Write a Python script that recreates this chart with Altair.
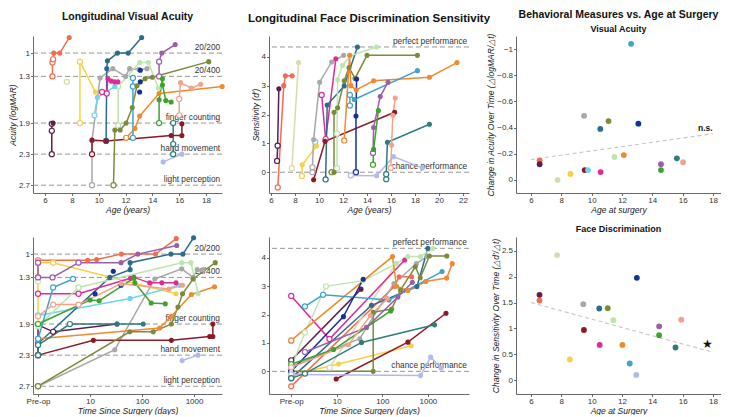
import altair as alt
import pandas as pd

FONT = "Liberation Sans"

SUBJECTS = ["orred", "dpurple", "paleolive", "yellow", "gray", "dred", "ltblue", "tealblue",
            "magenta", "olive", "ltgreen", "orange", "skyblue", "navy", "purple", "green",
            "teal", "salmon", "lavender"]
COLORS = ["#F26C4F", "#5B1E4F", "#D4DCB0", "#F7D046", "#A8A8A8", "#8B1A24", "#6FD3F3", "#2B6C8C",
          "#E02A98", "#7B8B3A", "#BDE5B0", "#EE8A2F", "#3FA3CC", "#14309B", "#9A5FA7", "#3DA32D",
          "#2E7C7C", "#F3A28A", "#B3B9EC"]

# (age, logMAR, filled)  "|" = break in line
VA_BY_AGE = {
    "orred": [(6.55, 1.30, 0), (6.55, 1.12, 0), (6.6, 1.08, 0), (6.65, 1.0, 1), (7.1, 1.0, 1), (7.8, 0.80, 1)],
    "dpurple": [(6.5, 2.3, 0), (6.5, 2.0, 0), (6.5, 1.91, 0), (6.6, 1.9, 1)],
    "paleolive": [(7.62, 1.37, 0)],
    "yellow": [(8.6, 1.9, 0), (8.6, 1.11, 0), (9.75, 1.5, 1)],
    "gray": [(9.5, 2.7, 0), (9.5, 2.12, 1), (10.1, 1.32, 1), (11.05, 1.2, 1), (12.0, 1.3, 1), (12.3, 1.2, 1), (13.0, 1.21, 1), (13.6, 1.2, 1)],
    "dred": [(9.5, 2.3, 0), (9.5, 2.12, 1), (10.55, 2.13, 1), (15.4, 2.06, 1), (16.2, 2.06, 1), (16.2, 1.91, 1)],
    "ltblue": [(9.68, 1.8, 0), (9.9, 1.57, 1), (11.2, 1.43, 1)],
    "tealblue": [(10.55, 2.13, 0), (10.6, 1.2, 1), (10.65, 1.1, 1), (11.4, 1.0, 1), (12.2, 1.0, 1), (13.2, 0.8, 1)],
    "magenta": [(10.25, 1.5, 0), (10.6, 1.52, 0), (10.68, 1.33, 1), (10.93, 1.36, 1), (11.18, 1.37, 1), (11.43, 1.37, 1)],
    "olive": [(11.1, 2.7, 0), (11.2, 1.99, 1), (11.6, 1.99, 1), (12.05, 1.9, 1), (12.5, 1.7, 1), (12.85, 1.42, 1), (13.45, 1.33, 1), (14.0, 1.31, 1), (18.2, 1.11, 1)],
    "ltgreen": [(11.45, 1.93, 0), (11.45, 1.43, 0), (13.05, 1.12, 1), (13.7, 1.12, 1), (14.45, 1.45, 1)],
    "orange": [(12.05, 2.09, 0), (12.7, 1.97, 1), (13.05, 1.81, 1), (14.5, 1.52, 1), (19.2, 1.43, 1)],
    "skyblue": [(12.55, 2.09, 0), (12.55, 1.43, 0), (12.55, 1.32, 0)],
    "navy": [(13.1, 1.22, 1), "|", (13.1, 1.37, 1), "|", (13.05, 1.5, 1)],
    "purple": [(14.5, 1.3, 0), (14.5, 1.11, 0), (14.7, 1.0, 1), (15.7, 0.89, 1)],
    "green": [(14.5, 1.9, 0), (14.5, 1.6, 1), (14.75, 1.33, 1), (14.75, 1.41, 1), (15.0, 1.61, 1), (15.4, 1.63, 1)],
    "teal": [(15.55, 2.3, 0), (15.55, 2.17, 0), (15.55, 1.9, 0)],
    "salmon": [(16.0, 1.8, 0), (16.0, 1.59, 0), (16.1, 1.38, 1), (16.9, 1.45, 1), (17.6, 1.4, 1)],
    "lavender": [(14.8, 2.4, 1), (16.2, 2.3, 1)],
}

# (days since surgery, logMAR, filled); pre-op plotted at 1 day
VA_BY_TIME = {
    "orred": [(1, 1.3, 0), (1, 1.11, 0), (1, 1.08, 0), (9, 1.08, 1), (13.4, 1.07, 1), (40, 1.0, 1), (182, 1.0, 1), (455, 0.8, 1)],
    "dpurple": [(1, 2.3, 0), (1, 1.91, 0), (1.95, 2.0, 0), (33, 1.9, 1)],
    "paleolive": [(1, 1.35, 0)],
    "yellow": [(1, 1.9, 0), (1, 1.11, 0), (1.95, 1.11, 0), (450, 1.51, 1)],
    "gray": [(1, 2.7, 0), (30, 2.23, 1), (176, 1.32, 1), (580, 1.19, 1), (960, 1.3, 1), (1150, 1.2, 1), (1500, 1.2, 1)],
    "dred": [(1, 2.3, 0), (11.6, 2.11, 1), (367, 2.11, 1), (2000, 2.06, 1), (2300, 2.06, 1), (2300, 1.9, 1)],
    "ltblue": [(1, 1.79, 0), (59, 1.57, 1), (530, 1.4, 1)],
    "tealblue": [(1, 2.15, 0), (24, 1.3, 1), (59, 1.2, 1), (59, 1.11, 1), (360, 1.0, 1), (610, 1.0, 1), (980, 0.79, 1)],
    "magenta": [(1, 1.51, 0), (6, 1.51, 0), (60, 1.31, 1), (70, 1.3, 1), (140, 1.37, 1), (240, 1.37, 1), (450, 1.37, 1)],
    "olive": [(1, 2.7, 0), (58, 2.0, 1), (164, 2.0, 1), (367, 1.9, 1), (490, 1.68, 1), (600, 1.51, 1), (960, 1.32, 1), (2560, 1.11, 1)],
    "ltgreen": [(1, 1.93, 0), (6, 1.43, 0), (580, 1.11, 1), (870, 1.11, 1), (1200, 1.51, 1)],
    "orange": [(1, 2.09, 0), (219, 1.95, 1), (367, 1.8, 1), (890, 1.52, 1), (2480, 1.42, 1)],
    "skyblue": [(1, 2.09, 0), (1.95, 1.43, 0), (4.7, 1.32, 0)],
    "navy": [(28, 1.22, 1), "|", (39.5, 1.4, 1), "|", (12.5, 1.51, 1)],
    "purple": [(1, 1.11, 0), (1, 1.3, 0), (1.9, 1.3, 0), (6, 1.11, 0), (39.5, 1.11, 1), (83, 1.0, 1), (465, 0.89, 1)],
    "green": [(1, 1.9, 0), (10, 1.59, 1), (15, 1.6, 1), (70, 1.31, 1), (73, 1.37, 1), (150, 1.63, 1), (280, 1.64, 1)],
    "teal": [(1, 2.3, 0), (1, 2.17, 0), (4.1, 1.9, 0), (33, 1.9, 1), (105, 1.9, 1)],
    "salmon": [(1, 1.8, 0), (1.95, 1.65, 0), (6, 1.65, 0), (40, 1.38, 1), (330, 1.45, 1), (600, 1.4, 1)],
    "lavender": [(590, 2.37, 1), (1190, 2.3, 1)],
}

# (age, d', filled)
FD_BY_AGE = {
    "dpurple": [(6.5, 0.39, 0), (6.55, 0.92, 0), (6.65, 2.89, 1)],
    "orred": [(6.56, -0.53, 0), (7.06, 3.0, 1), (7.2, 3.34, 1), (7.76, 3.34, 1)],
    "paleolive": [(7.73, 0.14, 0), (8.29, 3.8, 1)],
    "yellow": [(8.57, -0.13, 0), (8.6, 0.26, 1), (9.8, 0.91, 1)],
    "gray": [(9.45, 0.0, 0), (9.45, 0.17, 0), (9.55, 1.13, 1), (10.05, 3.12, 1), (11.05, 3.82, 1), (12.05, 4.05, 1)],
    "dred": [(9.55, -0.26, 1), (10.5, 1.07, 1), (16.3, 2.08, 1)],
    "ltblue": [(9.68, 1.05, 0)],
    "magenta": [(10.22, 2.68, 0), (10.55, 1.15, 0), (11.4, 3.93, 1)],
    "tealblue": [(10.55, -0.25, 0), (10.68, 2.33, 1), (12.1, 2.99, 1), (13.2, 4.34, 1)],
    "olive": [(11.05, 0.0, 0), (11.25, 0.0, 1), (11.25, 2.08, 1), (11.55, 2.23, 1), (12.1, 3.17, 1), (12.5, 3.63, 1), (13.0, 3.25, 1), (14.0, 4.05, 1), (18.2, 4.05, 1)],
    "ltgreen": [(11.5, 0.14, 0), (11.5, 1.34, 0), (11.55, 3.2, 1), (11.95, 3.7, 1), (12.6, 4.03, 1), (14.8, 4.34, 1)],
    "orange": [(12.1, 1.1, 0), (12.55, 4.05, 1), (12.65, 3.0, 1), (13.1, 2.85, 1), (14.55, 3.17, 1), (19.2, 3.29, 1), (21.5, 3.8, 1)],
    "skyblue": [(12.57, 2.31, 0), (12.57, 2.68, 0), (12.94, 2.52, 1), (18.2, 3.52, 1)],
    "navy": [(13.08, 0.0, 0), (13.08, 1.95, 1), (13.13, 3.23, 1)],
    "lavender": [(12.65, -0.11, 0), (14.8, -0.12, 1), (16.2, 0.54, 1), (18.6, 0.15, 1)],
    "purple": [(14.5, 0.67, 0), (14.55, 1.55, 1), (15.1, 2.62, 1), (15.75, 3.12, 1)],
    "green": [(14.5, 0.26, 0), (14.55, 0.79, 1), (14.95, 2.14, 1)],
    "teal": [(15.6, -0.24, 0), (15.6, -0.07, 0), (15.7, 1.04, 1), (19.2, 1.66, 1)],
    "salmon": [(15.98, 0.15, 0), (16.05, 0.94, 1), (16.15, 1.97, 1), (16.35, 2.57, 1)],
}

# (days since surgery, d', filled)
FD_BY_TIME = {
    "dpurple": [(1, 0.39, 0), (34, 2.9, 1)],
    "orred": [(1, -0.53, 0), (185, 3.0, 1), (234, 3.34, 1), (440, 3.34, 1)],
    "paleolive": [(7, 0.13, 0), (200, 3.8, 1)],
    "yellow": [(1, -0.13, 0), (11, 0.26, 1), (430, 0.9, 1)],
    "gray": [(1, 0.0, 0), (1, 0.17, 0), (32, 1.15, 1), (180, 3.1, 1), (560, 3.8, 1), (950, 4.05, 1)],
    "dred": [(9.7, -0.27, 1), (365, 1.03, 1), (2500, 2.05, 1)],
    "ltblue": [(1, 1.07, 0)],
    "magenta": [(1, 2.66, 0), (6.9, 1.14, 0), (310, 3.93, 1)],
    "tealblue": [(1, -0.24, 0), (58, 2.33, 1), (575, 2.99, 1), (1000, 4.34, 1)],
    "olive": [(1, 0.0, 0), (63, 0.0, 1), (63, 2.08, 1), (160, 2.2, 1), (250, 2.87, 1), (530, 3.69, 1), (680, 3.3, 1), (1080, 4.07, 1), (2600, 4.07, 1)],
    "ltgreen": [(1, 0.14, 0), (2, 1.37, 0), (5.8, 3.0, 0), (38, 3.2, 1), (204, 3.8, 1), (365, 4.05, 1), (690, 4.05, 1), (1290, 4.34, 1)],
    "orange": [(1, 1.09, 0), (167, 4.05, 1), (205, 3.0, 1), (365, 2.85, 1), (894, 3.17, 1), (2590, 3.29, 1), (3430, 3.8, 1)],
    "skyblue": [(2, 2.29, 0), (5, 2.7, 0), (140, 2.52, 1), (2050, 3.52, 1)],
    "navy": [(1, 0.0, 0), (14, 1.93, 1), (38, 3.25, 1)],
    "lavender": [(1, -0.11, 0), (690, -0.15, 1), (1150, 0.5, 1), (1950, 0.12, 1)],
    "purple": [(2, 0.68, 0), (45, 1.55, 1), (220, 2.62, 1), (456, 3.14, 1)],
    "green": [(1, 0.25, 0), (8.5, 0.77, 1), (153, 2.13, 1)],
    "teal": [(1, -0.24, 0), (2, -0.08, 0), (35, 1.02, 1), (1400, 1.64, 1)],
    "salmon": [(1, 0.14, 0), (18, 0.94, 1), (55, 1.97, 1), (130, 2.57, 1)],
}

VA_SUBJ = ["orred", "dpurple", "paleolive", "yellow", "gray", "dred", "ltblue", "tealblue", "magenta",
           "olive", "ltgreen", "orange", "skyblue", "navy", "purple", "green", "teal", "salmon"]
VA_SURG_AGE = [6.57, 6.57, 7.75, 8.6, 9.5, 9.54, 9.76, 10.57, 10.59, 11.11, 11.5, 12.12, 12.6, 13.08, 14.57, 14.57, 15.62, 16.03]
VA_SLOPE = [-0.15, -0.12, 0.0, -0.045, -0.49, -0.075, -0.075, -0.39, -0.06, -0.45, -0.175, -0.19, -1.04, -0.43, -0.12, -0.075, -0.165, -0.135]

FD_SUBJ = ["orred", "dpurple", "paleolive", "yellow", "gray", "dred", "tealblue", "magenta", "olive",
           "ltgreen", "orange", "skyblue", "navy", "lavender", "purple", "green", "teal", "salmon"]
FD_SURG_AGE = [6.56, 6.56, 7.72, 8.56, 9.45, 9.49, 10.5, 10.53, 11.06, 11.43, 12.03, 12.51, 12.98, 12.94, 14.45, 14.45, 15.53, 15.91]
FD_SLOPE = [1.54, 1.65, 2.42, 0.40, 1.47, 0.97, 1.385, 0.68, 1.39, 1.16, 0.68, 0.32, 1.98, 0.10, 1.04, 0.87, 0.63, 1.17]

TREND_VA_X = [6, 18]
TREND_VA_Y = [-0.156, -0.353]
TREND_FD_X = [6, 17.85]
TREND_FD_Y = [1.50, 0.55]

VA_REF_Y = [1.0, 1.3, 1.9, 2.3, 2.7]
VA_REF_LABEL = ["20/200", "20/400", "finger counting", "hand movement", "light perception"]
FD_REF_Y = [4.34, 0.0]
FD_REF_LABEL = ["perfect performance", "chance performance"]

cscale = alt.Scale(domain=SUBJECTS, range=COLORS)


def long_df(d):
    rows = []
    for subj, pts in d.items():
        seg = 0
        for i, p in enumerate(pts):
            if p == "|":
                seg += 1
                continue
            rows.append(dict(subj=subj, grp=f"{subj}-{seg}", x=p[0], y=p[1], filled=bool(p[2]), order=i))
    return pd.DataFrame(rows)


def long_panel(d, xsc, ysc, xax, yax, refs_y, refs_lab, label_x, w, h, title=None):
    df = long_df(d)
    refdf = pd.DataFrame({"y": refs_y, "label": refs_lab, "x": [label_x] * len(refs_y)})
    X = alt.X("x:Q", scale=xsc, axis=xax)
    Y = alt.Y("y:Q", scale=ysc, axis=yax)
    rules = alt.Chart(refdf).mark_rule(color="#8a8a8a", strokeDash=[5, 3], strokeWidth=0.9).encode(y=Y)
    labels = alt.Chart(refdf).mark_text(align="right", baseline="bottom", dy=-1, fontSize=8.3,
                                        color="#333", font=FONT).encode(x=X, y=Y, text="label:N")
    base = alt.Chart(df)
    lines = base.mark_line(strokeWidth=1.5).encode(
        x=X, y=Y, color=alt.Color("subj:N", scale=cscale, legend=None),
        detail="grp:N", order="order:Q")
    opens = base.transform_filter("!datum.filled").mark_point(
        shape="circle", size=26, fill="white", fillOpacity=1, strokeWidth=1.2, opacity=1).encode(
        x=X, y=Y, stroke=alt.Stroke("subj:N", scale=cscale, legend=None))
    fills = base.transform_filter("datum.filled").mark_circle(size=26, opacity=1).encode(
        x=X, y=Y, color=alt.Color("subj:N", scale=cscale, legend=None))
    ch = alt.layer(rules, labels, lines, opens, fills).properties(width=w, height=h)
    if title is not None:
        ch = ch.properties(title=title)
    return ch


def scatter_panel(subj, ages, vals, tx, ty, xsc, ysc, xax, yax, ann, ann_style, w, h, title):
    df = pd.DataFrame({"subj": subj, "x": ages, "y": vals})
    tdf = pd.DataFrame({"x": tx, "y": ty})
    adf = pd.DataFrame({"x": [ann[0]], "y": [ann[1]], "t": [ann[2]]})
    X = alt.X("x:Q", scale=xsc, axis=xax)
    Y = alt.Y("y:Q", scale=ysc, axis=yax)
    trend = alt.Chart(tdf).mark_line(color="#c6c6c6", strokeDash=[4, 3], strokeWidth=1.1).encode(x=X, y=Y)
    pts = alt.Chart(df).mark_circle(size=34, opacity=1).encode(
        x=X, y=Y, color=alt.Color("subj:N", scale=cscale, legend=None))
    txt = alt.Chart(adf).mark_text(**ann_style).encode(x=X, y=Y, text="t:N")
    return alt.layer(trend, pts, txt).properties(width=w, height=h, title=title)


W1, W2, W3 = 189, 200, 205
H = 157

age_ticks_1 = [6, 8, 10, 12, 14, 16, 18]
age_ticks_2 = [6, 8, 10, 12, 14, 16, 18, 20, 22]

time_labels = "datum.value < 2 ? 'Pre-op' : format(datum.value, 'd')"

p1 = long_panel(
    VA_BY_AGE,
    alt.Scale(domain=[5.1, 19.19], nice=False, zero=False),
    alt.Scale(domain=[0.78, 2.8], reverse=True, nice=False, zero=False),
    alt.Axis(title="Age (years)", values=age_ticks_1),
    alt.Axis(title="Acuity (logMAR)", values=VA_REF_Y, format=".1~f"),
    VA_REF_Y, VA_REF_LABEL, 19.05, W1, H,
    alt.Title("Longitudinal Visual Acuity", subtitle=" ", offset=-1))

p2 = long_panel(
    FD_BY_AGE,
    alt.Scale(domain=[5.83, 22.5], nice=False, zero=False),
    alt.Scale(domain=[-0.72, 4.72], nice=False, zero=False),
    alt.Axis(title="Age (years)", values=age_ticks_2),
    alt.Axis(title="Sensitivity (d')", values=[0, 1, 2, 3, 4]),
    FD_REF_Y, FD_REF_LABEL, 22.35, W2, H,
    alt.Title("Longitudinal Face Discrimination Sensitivity", subtitle=" ", fontSize=11.5, offset=-1))

p3 = scatter_panel(
    VA_SUBJ, VA_SURG_AGE, VA_SLOPE, TREND_VA_X, TREND_VA_Y,
    alt.Scale(domain=[5.01, 18.53], nice=False, zero=False),
    alt.Scale(domain=[-1.1, 0.1], reverse=True, nice=False, zero=False),
    alt.Axis(title="Age at surgery", values=age_ticks_1),
    alt.Axis(title="Change in Acuity Over Time (\u25B3logMAR/\u25B3t)", values=[-1, -0.8, -0.6, -0.4, -0.2, 0], format=".1~f"),
    (17.5, -0.395, "n.s."),
    dict(fontSize=8.5, fontWeight="bold", font=FONT, color="#111", align="center", baseline="middle"),
    W3, H,
    alt.Title("Behavioral Measures vs. Age at Surgery", subtitle="Visual Acuity", offset=-1))

p4 = long_panel(
    VA_BY_TIME,
    alt.Scale(type="log", domain=[0.8, 3450], nice=False),
    alt.Scale(domain=[0.78, 2.8], reverse=True, nice=False, zero=False),
    alt.Axis(title="Time Since Surgery (days)", values=[1, 10, 100, 1000], labelExpr=time_labels),
    alt.Axis(title=None, values=VA_REF_Y, format=".1~f"),
    VA_REF_Y, VA_REF_LABEL, 3150, W1, H)

p5 = long_panel(
    FD_BY_TIME,
    alt.Scale(type="log", domain=[0.325, 8000], nice=False),
    alt.Scale(domain=[-0.8, 4.74], nice=False, zero=False),
    alt.Axis(title="Time Since Surgery (days)", values=[1, 10, 100, 1000], labelExpr=time_labels),
    alt.Axis(title=None, values=[0, 1, 2, 3, 4]),
    FD_REF_Y, FD_REF_LABEL, 7200, W2, H)

p6 = scatter_panel(
    FD_SUBJ, FD_SURG_AGE, FD_SLOPE, TREND_FD_X, TREND_FD_Y,
    alt.Scale(domain=[5.01, 18.53], nice=False, zero=False),
    alt.Scale(domain=[-0.27, 2.77], nice=False, zero=False),
    alt.Axis(title="Age at Surgery", values=age_ticks_1),
    alt.Axis(title="Change in Sensitivity Over Time (\u25B3d'/\u25B3t)", values=[0, 0.5, 1, 1.5, 2, 2.5], format=".1~f"),
    (17.63, 0.70, "\u2605"),
    dict(fontSize=12, font="DejaVu Sans", color="#111", align="center", baseline="middle"),
    W3, H,
    alt.Title("Face Discrimination", fontSize=9, offset=3))

chart = alt.concat(
    p1, p2, p3, p4, p5, p6, columns=3,
    spacing={"row": 44, "column": 47}, bounds="flush"
).properties(
    padding={"left": 0, "top": 2, "right": 0, "bottom": 0}
).configure_axis(
    grid=False, domainColor="#444", tickColor="#444", tickSize=2.5, domainWidth=0.8, tickWidth=0.8,
    labelFontSize=8, labelColor="#333", labelFont=FONT, labelPadding=1,
    titleFontSize=8.5, titleFontWeight="normal", titleFontStyle="italic", titleColor="#222",
    titleFont=FONT, titlePadding=1
).configure_view(
    stroke=None
).configure_title(
    font=FONT, fontSize=10.5, fontWeight="bold", color="#111", anchor="middle",
    subtitleFont=FONT, subtitleFontSize=9, subtitleFontWeight="bold", subtitleColor="#111",
    subtitlePadding=4
)

chart.save("out.html", embed_options={"renderer": "svg", "actions": False})
